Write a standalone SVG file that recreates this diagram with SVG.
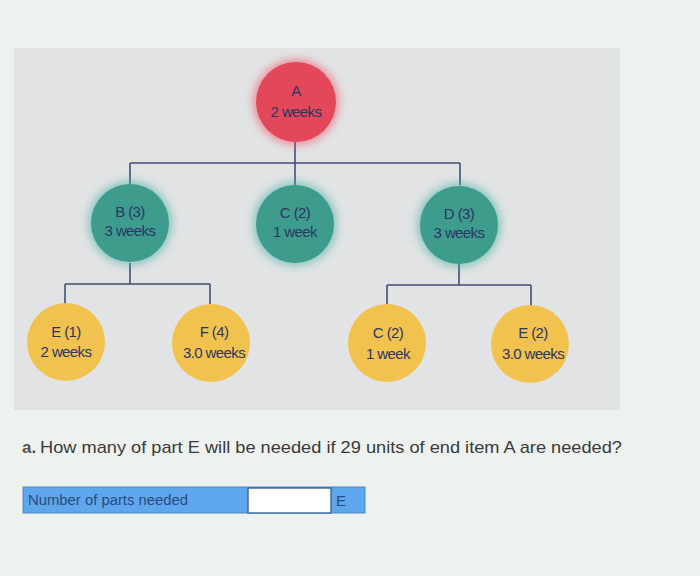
<svg xmlns="http://www.w3.org/2000/svg" width="700" height="576" viewBox="0 0 700 576">
<defs>
<style>
.lbl{font-family:"Liberation Sans","DejaVu Sans",sans-serif;font-size:15px;letter-spacing:-0.6px;fill:#2b3566;text-anchor:middle}
.ln{stroke:#3f4f72;stroke-width:1.6;fill:none}
.red{fill:#e2485a}
.teal{fill:#3e9c8c}
.yel{fill:#f2c24f}
</style>
<filter id="glow" x="-50%" y="-50%" width="200%" height="200%"><feGaussianBlur stdDeviation="4"/></filter>
</defs>
<rect width="700" height="576" fill="#eef2ee"/>
<rect x="14" y="48" width="606" height="362" fill="#e1e3e4"/>
<g id="connectors">
<path class="ln" d="M295 142 V163 M130 163 H460 M130 163 V184 M295 163 V185 M460 163 V185"/>
<path class="ln" d="M130 263 V284 M65 284 H210 M65 284 V304 M210 284 V304"/>
<path class="ln" d="M459 264 V285 M387 285 H531 M387 285 V305 M531 285 V305"/>
</g>
<g id="A"><ellipse cx="296" cy="102" rx="43" ry="43" fill="#f0566c" opacity="0.6" filter="url(#glow)"/><ellipse class="red" cx="296" cy="102" rx="40" ry="40"/><text class="lbl" x="296" y="96">A</text><text class="lbl" x="296" y="117">2 weeks</text></g>
<g id="B"><ellipse cx="130" cy="223" rx="42" ry="42" fill="#48b0a6" opacity="0.6" filter="url(#glow)"/><ellipse class="teal" cx="130" cy="223" rx="39" ry="39"/><text class="lbl" x="130" y="217">B (3)</text><text class="lbl" x="130" y="236">3 weeks</text></g>
<g id="C"><ellipse cx="295" cy="224" rx="42" ry="42" fill="#48b0a6" opacity="0.6" filter="url(#glow)"/><ellipse class="teal" cx="295" cy="224" rx="39" ry="39"/><text class="lbl" x="295" y="218">C (2)</text><text class="lbl" x="295" y="237">1 week</text></g>
<g id="D"><ellipse cx="459" cy="225" rx="42" ry="42" fill="#48b0a6" opacity="0.6" filter="url(#glow)"/><ellipse class="teal" cx="459" cy="225" rx="39" ry="39"/><text class="lbl" x="459" y="219">D (3)</text><text class="lbl" x="459" y="238">3 weeks</text></g>
<g id="E1"><ellipse class="yel" cx="66" cy="342" rx="39" ry="39"/><text class="lbl" x="66" y="337">E (1)</text><text class="lbl" x="66" y="357">2 weeks</text></g>
<g id="F"><ellipse class="yel" cx="211" cy="343" rx="39" ry="39"/><text class="lbl" x="214" y="337">F (4)</text><text class="lbl" x="214" y="358">3.0 weeks</text></g>
<g id="C2"><ellipse class="yel" cx="387" cy="343" rx="39" ry="39"/><text class="lbl" x="388" y="338">C (2)</text><text class="lbl" x="388" y="359">1 week</text></g>
<g id="E2"><ellipse class="yel" cx="530" cy="344" rx="39" ry="39"/><text class="lbl" x="533" y="338">E (2)</text><text class="lbl" x="533" y="359">3.0 weeks</text></g>
<text x="22" y="453" font-family="Liberation Sans,sans-serif" font-size="17" fill="#555" font-weight="bold">a.</text>
<text x="40" y="453" font-family="Liberation Sans,sans-serif" font-size="17" fill="#3a3a3a" textLength="582" lengthAdjust="spacingAndGlyphs">How many of part E will be needed if 29 units of end item A are needed?</text>
<g id="answer">
<rect x="23" y="487" width="342" height="26" fill="#5ea7ec" stroke="#4a86c4" stroke-width="1"/>
<rect x="248" y="488" width="83" height="25" fill="#ffffff" stroke="#3f6e9c" stroke-width="1.5"/>
<text x="28" y="505" font-family="Liberation Sans,sans-serif" font-size="14" fill="#2a4a80" textLength="160" lengthAdjust="spacingAndGlyphs">Number of parts needed</text>
<text x="336" y="506" font-family="Liberation Sans,sans-serif" font-size="15" fill="#2a4a80">E</text>
</g>
</svg>
